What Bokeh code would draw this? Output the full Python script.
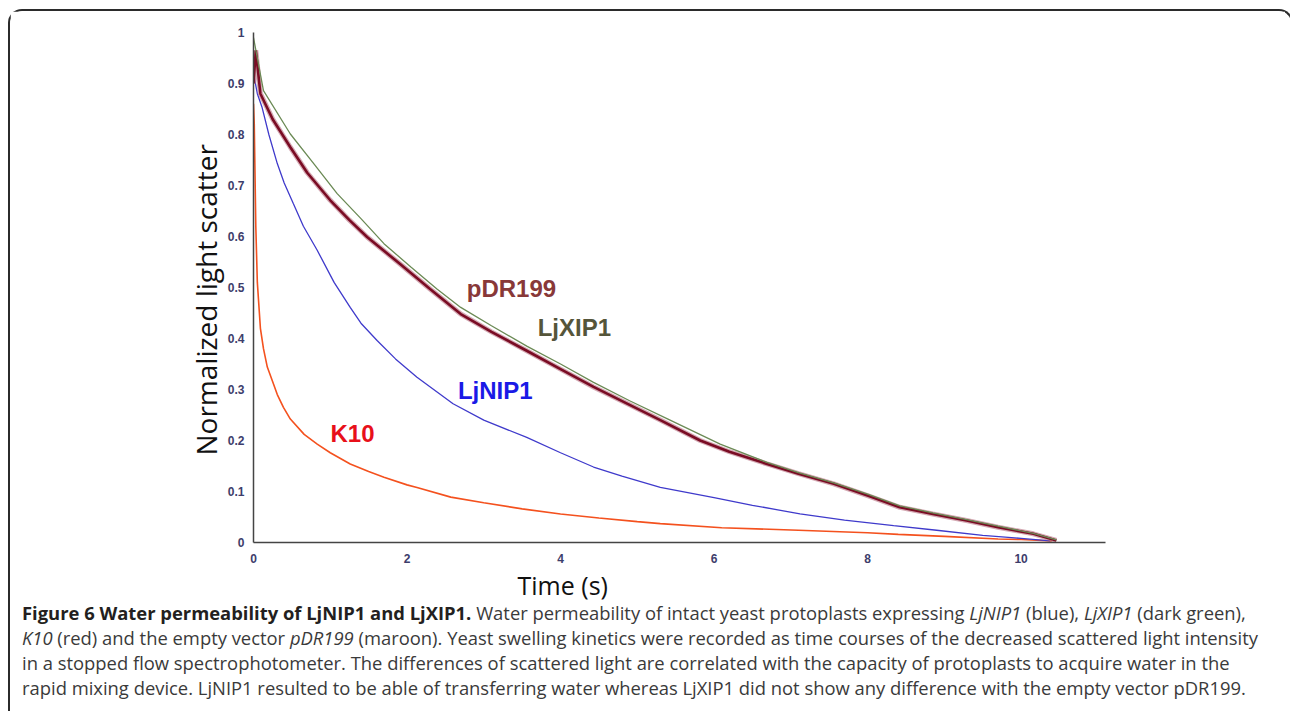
from bokeh.plotting import figure
from bokeh.models import Label, Div, FixedTicker, Range1d, Title
from bokeh.layouts import column
from bokeh.embed import file_html
from bokeh.resources import INLINE

# ---------------- data ----------------
k10_t = [0, 0.01, 0.03, 0.05, 0.09, 0.13, 0.18, 0.25, 0.31, 0.39, 0.48, 0.66, 0.83, 1.0, 1.26, 1.5, 1.70, 2.0, 2.13, 2.57, 3.0, 3.5, 4.0, 4.5, 5.0, 5.3, 6.1, 7.1, 8.0, 8.4, 9.0, 9.7, 10.0, 10.4]
k10_y = [0.86, 0.82, 0.62, 0.51, 0.42, 0.38, 0.344, 0.315, 0.29, 0.265, 0.242, 0.212, 0.193, 0.176, 0.154, 0.139, 0.128, 0.113, 0.108, 0.089, 0.078, 0.066, 0.056, 0.048, 0.041, 0.037, 0.029, 0.024, 0.019, 0.016, 0.012, 0.007, 0.006, 0.003]

nip1_t = [0, 0.05, 0.11, 0.2, 0.31, 0.4, 0.52, 0.65, 0.83, 1.05, 1.26, 1.4, 1.61, 1.85, 2.13, 2.60, 3.0, 3.56, 4.0, 4.43, 4.8, 5.30, 6.0, 6.5, 7.12, 7.7, 8.34, 8.9, 9.5, 10.0, 10.38]
nip1_y = [0.92, 0.88, 0.854, 0.80, 0.743, 0.705, 0.664, 0.62, 0.573, 0.51, 0.461, 0.43, 0.396, 0.36, 0.324, 0.272, 0.24, 0.206, 0.176, 0.148, 0.13, 0.108, 0.088, 0.073, 0.056, 0.044, 0.033, 0.024, 0.014, 0.008, 0.003]

pdr_t = [0, 0.03, 0.09, 0.25, 0.48, 0.7, 1.0, 1.25, 1.48, 1.91, 2.30, 2.70, 3.1, 3.56, 4.0, 4.43, 4.9, 5.30, 5.82, 6.2, 6.69, 7.1, 7.56, 8.0, 8.42, 8.85, 9.29, 9.7, 10.16, 10.46]
pdr_y = [0.90, 0.965, 0.88, 0.83, 0.775, 0.725, 0.671, 0.632, 0.599, 0.546, 0.497, 0.448, 0.413, 0.376, 0.34, 0.305, 0.27, 0.24, 0.2, 0.178, 0.154, 0.135, 0.115, 0.092, 0.069, 0.056, 0.043, 0.03, 0.017, 0.004]

xip1_t = [0, 0.13, 0.48, 0.8, 1.09, 1.4, 1.70, 2.05, 2.39, 2.70, 3.1, 3.56, 4.0, 4.43, 4.9, 5.4, 6.08, 6.69, 7.1, 7.56, 8.0, 8.42, 8.85, 9.29, 9.7, 10.16, 10.46]
xip1_y = [0.99, 0.886, 0.801, 0.74, 0.684, 0.635, 0.586, 0.54, 0.497, 0.461, 0.425, 0.385, 0.35, 0.314, 0.278, 0.242, 0.193, 0.157, 0.137, 0.117, 0.095, 0.072, 0.058, 0.045, 0.032, 0.018, 0.005]

series_names = ["pDR199", "LjXIP1", "LjNIP1", "K10"]
label_t = [3.36, 4.18, 3.15, 1.29]
label_y = [0.498, 0.422, 0.298, 0.214]

x_title = "Time (s)"
y_title = "Normalized light scatter"
x_ticks = [0, 2, 4, 6, 8, 10]
x_tick_labels = ["0", "2", "4", "6", "8", "10"]
y_ticks = [0, 0.1, 0.2, 0.3, 0.4, 0.5, 0.6, 0.7, 0.8, 0.9, 1.0]
y_tick_labels = ["0", "0.1", "0.2", "0.3", "0.4", "0.5", "0.6", "0.7", "0.8", "0.9", "1"]

# ---------------- figure ----------------
p = figure(frame_width=852, frame_height=510,
           min_border_left=243, min_border_top=21, min_border_right=180, min_border_bottom=56,
           x_range=Range1d(0, 11.1), y_range=Range1d(0, 1.0),
           output_backend="svg", toolbar_location=None)
p.outline_line_color = None
p.grid.grid_line_color = None
p.background_fill_color = "white"
p.border_fill_color = "white"

for ax in (p.xaxis[0], p.yaxis[0]):
    ax.axis_line_color = "#444444"
    ax.axis_line_width = 1.5
    ax.major_tick_line_color = None
    ax.minor_tick_line_color = None
    ax.major_label_text_font = "Liberation Sans"
    ax.major_label_text_font_style = "bold"
    ax.major_label_text_font_size = "12px"
    ax.major_label_text_color = "#3d3d6b"

p.xaxis.ticker = FixedTicker(ticks=x_ticks)
p.xaxis.major_label_overrides = dict(zip(x_ticks, x_tick_labels))
p.yaxis.ticker = FixedTicker(ticks=y_ticks)
p.yaxis.major_label_overrides = dict(zip(y_ticks, y_tick_labels))
p.xaxis.major_label_standoff = 5
p.yaxis.major_label_standoff = 3

# axis titles as off-centre titles (as in the reference)
p.add_layout(Title(text=x_title, align="left", offset=264, standoff=0,
                   text_font="Open Sans", text_font_size="25px", text_font_style="normal",
                   text_color="#111111"), "below")
p.add_layout(Title(text=y_title, align="left", offset=87, standoff=0,
                   text_font="Open Sans", text_font_size="28px", text_font_style="normal",
                   text_color="#111111"), "left")

p.line(k10_t, k10_y, line_color="#f4511e", line_width=1.6)
p.line(nip1_t, nip1_y, line_color="#3f3acb", line_width=1.3)
p.line(pdr_t, pdr_y, line_color="#b77080", line_width=5, line_alpha=0.6)
p.line(pdr_t, pdr_y, line_color="#7a0c24", line_width=2.6)
p.line(xip1_t, xip1_y, line_color="#6b8a55", line_width=1.3)

label_colors = ["#883838", "#55553a", "#1a1ae6", "#e8101a"]
for name, lt, ly, c in zip(series_names, label_t, label_y, label_colors):
    p.add_layout(Label(x=lt, y=ly, text=name, text_align="center", text_baseline="middle",
                       text_font="Liberation Sans", text_font_style="bold",
                       text_font_size="24px", text_color=c))

caption_html = (
    "<b style='color:#231f20'>Figure 6 Water permeability of LjNIP1 and LjXIP1.</b> "
    "Water permeability of intact yeast protoplasts expressing <i>LjNIP1</i> (blue), <i>LjXIP1</i> (dark green),<br>"
    "<i>K10</i> (red) and the empty vector <i>pDR199</i> (maroon). Yeast swelling kinetics were recorded as time courses "
    "of the decreased scattered light intensity<br>"
    "in a stopped flow spectrophotometer. The differences of scattered light are correlated with the capacity of "
    "protoplasts to acquire water in the<br>"
    "rapid mixing device. LjNIP1 resulted to be able of transferring water whereas LjXIP1 did not show any "
    "difference with the empty vector pDR199."
)
cap = Div(text=caption_html, width=1271, height=100,
          styles={"font-family": "Open Sans", "font-size": "18.4px", "line-height": "25px",
                  "color": "#3a3a3a", "white-space": "nowrap", "padding-left": "7px",
                  "position": "relative", "top": "-6px"})

layout = column(p, cap, spacing=0,
                styles={"border": "2px solid #2b2b2b", "border-bottom": "none",
                        "border-radius": "14px 14px 0 0", "background": "white",
                        "margin-left": "8px", "margin-top": "9px"})

open("out.html", "w").write(file_html(layout, INLINE))
